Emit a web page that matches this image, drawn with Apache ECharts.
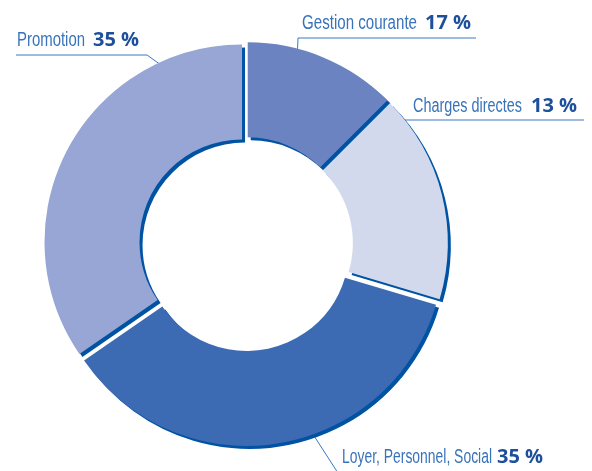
<!DOCTYPE html>
<html>
<head>
<meta charset="utf-8">
<script src="https://cdn.jsdelivr.net/npm/echarts@6/dist/echarts.min.js"></script>
<style>
  html, body { margin: 0; padding: 0; background: #fff; }
  #container { width: 592px; height: 471px; }
</style>
</head>
<body>
<div id="container"></div>
<script>
// parts, clockwise from 12 o'clock
var names = ['Gestion courante', 'Charges directes', 'Loyer, Personnel, Social', 'Promotion'];
var values = [12.5, 17.1, 35.8, 34.6];   // slice sizes as drawn
var pctText = ['17 %', '13 %', '35 %', '35 %']; // percentages as printed
var colors = ['#6b84c1', '#d3d9ed', '#3d6bb3', '#97a6d4'];

// label layout: name x, name width, pct x, baseline, leader points
var labelPos = [
    {x: 302, w: 115, px: 425, y: 30, line: [[297, 62], [298, 38], [476, 38]]},
    {x: 413, w: 109, px: 531, y: 113, line: [[396, 120], [395, 120], [584, 120]]},
    {x: 342, w: 150, px: 497, y: 464, line: [[307, 425], [338, 473], [338, 473]]},
    {x: 17, w: 68, px: 93, y: 47, line: [[168, 70], [147, 55], [16, 55]]}
];

var nameFont = '20px "Liberation Sans", sans-serif';
var ctx = document.createElement('canvas').getContext('2d');
ctx.font = nameFont;

var dom = document.getElementById('container');
var myChart = echarts.init(dom, null, {renderer: 'canvas'});

var data = names.map(function (n, i) {
    return {
        name: n,
        value: values[i],
        selected: true,
        itemStyle: {color: colors[i]},
        select: {itemStyle: {color: colors[i]}}
    };
});

var graphics = [];
labelPos.forEach(function (lp, i) {
    graphics.push({
        type: 'polyline',
        shape: {points: lp.line},
        style: {stroke: '#3a78c0', lineWidth: 1, fill: null},
        silent: true
    });
    var sx = lp.w / ctx.measureText(names[i]).width;
    graphics.push({
        type: 'text',
        x: lp.x,
        y: lp.y - 7,
        scaleX: sx,
        style: {
            text: names[i],
            fontFamily: '"Liberation Sans", sans-serif',
            fontSize: 20,
            fill: '#3873b9',
            verticalAlign: 'middle',
            align: 'left'
        },
        silent: true
    });
    graphics.push({
        type: 'text',
        x: lp.px,
        y: lp.y - 7,
        style: {
            text: pctText[i],
            fontFamily: '"Open Sans", sans-serif',
            fontWeight: 'bold',
            fontSize: 20,
            fill: '#1d4f9b',
            verticalAlign: 'middle',
            align: 'left'
        },
        silent: true
    });
});

var option = {
    animation: false,
    graphic: graphics,
    series: [{
        type: 'pie',
        center: [246, 244],
        radius: [102.5, 197.5],
        startAngle: 90,
        clockwise: true,
        selectedMode: 'multiple',
        selectedOffset: 4.5,
        emphasis: {disabled: true},
        itemStyle: {
            borderWidth: 0,
            shadowColor: '#0053a3',
            shadowBlur: 0,
            shadowOffsetX: 3,
            shadowOffsetY: 3
        },
        label: {show: false},
        labelLine: {show: false},
        data: data
    }]
};
myChart.setOption(option, true);
</script>
</body>
</html>
